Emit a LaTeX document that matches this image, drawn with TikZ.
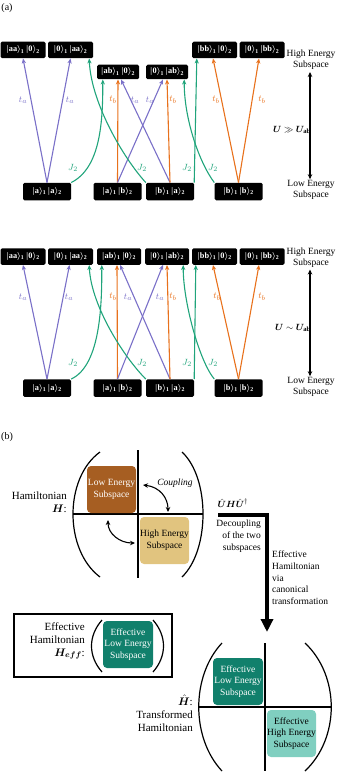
\documentclass[tikz,border=0pt]{standalone}
\usepackage{amsmath,amssymb,bm}
\usepackage{fontspec}
\setmainfont{Liberation Serif}
\usetikzlibrary{arrows.meta,positioning}
\definecolor{purp}{HTML}{7A70C8}
\definecolor{oran}{HTML}{E8711C}
\definecolor{gree}{HTML}{20A47B}
\definecolor{lowbrown}{HTML}{A65E22}
\definecolor{hightan}{HTML}{E1C47F}
\definecolor{effteal}{HTML}{11806C}
\definecolor{effmint}{HTML}{80CFC0}
\newcommand\kt[2]{$\bm{|}$#1$\bm{\rangle}_{\mathbf{#2}}$}

\begin{document}
\begin{tikzpicture}[
  x=1pt,y=-1pt,
  st/.style={fill=black,rounded corners=1.5pt,text=white,inner sep=0pt,minimum width=45pt,minimum height=16.5pt,font=\bfseries\fontsize{8.3}{9}\selectfont},
  lowst/.style={st,minimum width=48pt,minimum height=17.5pt},
  arr/.style={-{Stealth[length=5pt,width=4.2pt,inset=1.5pt]},line width=1.1pt,draw=#1},
  tl/.style={text=#1,inner sep=0pt,font=\fontsize{9.5}{9.5}\selectfont},
  side/.style={align=center,inner sep=0pt,font=\fontsize{9.5}{11}\selectfont},
  vdbl/.style={{Stealth[length=5pt,width=4.5pt]}-{Stealth[length=5pt,width=4.5pt]},line width=1.2pt},
  subsp/.style={rounded corners=4pt,minimum width=49pt,minimum height=47pt,align=center,inner sep=0pt,font=\fontsize{9.5}{11.7}\selectfont},
  big/.style={inner sep=0pt,font=\fontsize{11}{13}\selectfont},
  paren/.style={line width=1.2pt}
]
\useasboundingbox (0,0) rectangle (337,781);

% (a) strong interaction
\node[big,font=\fontsize{10}{12}\selectfont] (pa) at (7,8) {(a)};
\node[st] (aaL) at (23,50) {\kt{aa}{1}\,\kt{0}{2}};
\node[st] (aaR) at (70.5,50) {\kt{0}{1}\,\kt{aa}{2}};
\node[st,minimum width=42pt,minimum height=14.5pt] (abL) at (118,72) {\kt{ab}{1}\,\kt{0}{2}};
\node[st,minimum width=42pt,minimum height=14.5pt] (abR) at (167,72) {\kt{0}{1}\,\kt{ab}{2}};
\node[st] (bbL) at (214.5,50) {\kt{bb}{1}\,\kt{0}{2}};
\node[st] (bbR) at (262,50) {\kt{0}{1}\,\kt{bb}{2}};
\node[lowst] (aa) at (47,191.5) {\kt{a}{1}\,\kt{a}{2}};
\node[lowst] (ab) at (117.5,191.5) {\kt{a}{1}\,\kt{b}{2}};
\node[lowst] (ba) at (170,191.5) {\kt{b}{1}\,\kt{a}{2}};
\node[lowst] (bb) at (238.5,191.5) {\kt{b}{1}\,\kt{b}{2}};

\draw[arr=purp] (aa.north) -- (aaL.south);
\draw[arr=purp] (aa.north) -- (aaR.south);
\draw[arr=oran] (ab.north) -- (abL.south);
\draw[arr=purp] (ab.north) -- ([xshift=-4pt]abR.south);
\draw[arr=purp] (ba.north) -- ([xshift=3pt]abL.south);
\draw[arr=oran] (ba.north) -- (abR.south);
\draw[arr=oran] (bb.north) -- ([xshift=-1.5pt]bbL.south);
\draw[arr=oran] (bb.north) -- ([xshift=-3pt]bbR.south);
\draw[arr=gree] (aa.north east) .. controls +(30,-15) and +(0,40) .. ([xshift=6pt]abL.south west);
\draw[arr=gree] (ba.north west) .. controls +(-22,-24) and +(2,45) .. ([xshift=-4pt]aaR.south east);
\draw[arr=gree] (ba.north east) -- ([xshift=5pt]bbL.south west);
\draw[arr=gree] (bb.north west) .. controls +(-15,-20) and +(0,40) .. ([xshift=-4pt]abR.south east);

\node[tl=purp] (ta1) at (23,100) {$t_a$};
\node[tl=purp] (ta2) at (70,100) {$t_a$};
\node[tl=purp] (ta3) at (135,100) {$t_a$};
\node[tl=purp] (ta4) at (150,100) {$t_a$};
\node[tl=oran] (tb1) at (113,100) {$t_b$};
\node[tl=oran] (tb2) at (173,100) {$t_b$};
\node[tl=oran] (tb3) at (216,100) {$t_b$};
\node[tl=oran] (tb4) at (262,100) {$t_b$};
\node[tl=gree] (jt1) at (73,168) {$J_2$};
\node[tl=gree] (jt2) at (142,168) {$J_2$};
\node[tl=gree] (jt3) at (187,168) {$J_2$};
\node[tl=gree] (jt4) at (213,168) {$J_2$};

\node[side] (hi1) at (311,60) {High Energy\\Subspace};
\node[side] (lo1) at (311,190) {Low Energy\\Subspace};
\draw[vdbl] ([xshift=-1pt,yshift=-2pt]hi1.south) -- ([xshift=-1pt,yshift=1pt]lo1.north);
\node[inner sep=0pt,font=\fontsize{9.5}{11}\selectfont] (r1) at (292,130) {$\bm U\gg\bm U_{\mathbf{ab}}$};

% (a) comparable interaction
\node[st] (qaaL) at (23,256.5) {\kt{aa}{1}\,\kt{0}{2}};
\node[st] (qaaR) at (70.5,256.5) {\kt{0}{1}\,\kt{aa}{2}};
\node[st,minimum width=44pt] (qabL) at (119,256.5) {\kt{ab}{1}\,\kt{0}{2}};
\node[st,minimum width=44pt] (qabR) at (167,256.5) {\kt{0}{1}\,\kt{ab}{2}};
\node[st] (qbbL) at (214.5,256.5) {\kt{bb}{1}\,\kt{0}{2}};
\node[st] (qbbR) at (262,256.5) {\kt{0}{1}\,\kt{bb}{2}};
\node[lowst] (qaa) at (47,388) {\kt{a}{1}\,\kt{a}{2}};
\node[lowst] (qab) at (117.5,388) {\kt{a}{1}\,\kt{b}{2}};
\node[lowst] (qba) at (170,388) {\kt{b}{1}\,\kt{a}{2}};
\node[lowst] (qbb) at (238.5,388) {\kt{b}{1}\,\kt{b}{2}};

\draw[arr=purp] (qaa.north) -- (qaaL.south);
\draw[arr=purp] (qaa.north) -- ([xshift=-1pt]qaaR.south);
\draw[arr=oran] (qab.north) -- ([xshift=-2pt]qabL.south);
\draw[arr=purp] (qab.north) -- ([xshift=-4pt]qabR.south);
\draw[arr=purp] (qba.north) -- ([xshift=1pt]qabL.south);
\draw[arr=oran] (qba.north) -- (qabR.south);
\draw[arr=oran] (qbb.north) -- ([xshift=-1.5pt]qbbL.south);
\draw[arr=oran] (qbb.north) -- ([xshift=-3pt]qbbR.south);
\draw[arr=gree] (qaa.north east) .. controls +(30,-14) and +(0,37) .. ([xshift=5pt]qabL.south west);
\draw[arr=gree] (qba.north west) .. controls +(-22,-22) and +(2,41) .. ([xshift=-4pt]qaaR.south east);
\draw[arr=gree] (qba.north east) -- ([xshift=4pt]qbbL.south west);
\draw[arr=gree] (qbb.north west) .. controls +(-15,-18) and +(0,37) .. ([xshift=-6pt]qabR.south east);

\node[tl=purp] (qta1) at (23,297) {$t_a$};
\node[tl=purp] (qta2) at (69,297) {$t_a$};
\node[tl=purp] (qta3) at (128,297) {$t_a$};
\node[tl=purp] (qta4) at (160,297) {$t_a$};
\node[tl=oran] (qtb1) at (113,297) {$t_b$};
\node[tl=oran] (qtb2) at (173,297) {$t_b$};
\node[tl=oran] (qtb3) at (217,297) {$t_b$};
\node[tl=oran] (qtb4) at (262,297) {$t_b$};
\node[tl=gree] (qjt1) at (73,363) {$J_2$};
\node[tl=gree] (qjt2) at (142,363) {$J_2$};
\node[tl=gree] (qjt3) at (187,363) {$J_2$};
\node[tl=gree] (qjt4) at (213,363) {$J_2$};

\node[side] (hi2) at (311,257.5) {High Energy\\Subspace};
\node[side] (lo2) at (311,387) {Low Energy\\Subspace};
\draw[vdbl] ([xshift=-1pt,yshift=-2pt]hi2.south) -- ([xshift=-1pt,yshift=1pt]lo2.north);
\node[inner sep=0pt,font=\fontsize{9.5}{11}\selectfont] (r2) at (293,328) {$\bm U\sim\bm U_{\mathbf{ab}}$};

% (b) canonical transformation
\node[big,font=\fontsize{10}{12}\selectfont] (pb) at (7,437) {(b)};
\draw[paren] (100,452) .. controls (64,478) and (64,550) .. (100,577);
\draw[paren] (182,452) .. controls (210,478) and (210,550) .. (182,577);
\draw[paren] (138,450) -- (138,578);
\draw[paren] (73,514) -- (203,514);
\node[subsp,fill=lowbrown,text=white] (lowH) at (111.5,489.5) {Low Energy\\Subspace};
\node[subsp,fill=hightan] (highH) at (164.5,540.5) {High Energy\\Subspace};
\node[inner sep=0pt,font=\itshape\fontsize{9.5}{11}\selectfont] (cpl) at (175,483) {Coupling};
\coordinate (c1) at (143,485);
\coordinate (c2) at (168,512);
\coordinate (c3) at (108,520);
\coordinate (c4) at (135,543);
\draw[vdbl,line width=1.1pt] (c1) .. controls (160,487) and (168,498) .. (c2);
\draw[vdbl,line width=1.1pt] (c3) .. controls (108,534) and (120,543) .. (c4);
\node[big,align=right,anchor=north east] (hamH) at (67,492) {Hamiltonian\\$\bm H$:};

\node[inner sep=0pt,font=\fontsize{9.5}{11}\selectfont] (uhu) at (233,503) {$\hat{\bm U}\bm H\hat{\bm U}^{\dagger}$};
\coordinate (ls) at (218,515);
\coordinate (lc) at (267,515);
\coordinate (le) at (267,632);
\draw[line width=4pt,-{Triangle[length=13pt,width=12pt]}] (ls) -- (lc) -- (le);
\node[inner sep=0pt,align=right,anchor=north east,font=\fontsize{9.5}{12}\selectfont] (dec) at (261,520) {Decoupling\\of the two\\subspaces};
\node[inner sep=0pt,align=left,anchor=north west,font=\fontsize{9.5}{11.6}\selectfont] (via) at (272,551) {Effective\\Hamiltonian\\via\\canonical\\transformation};

\node[draw,line width=1.6pt,minimum width=158pt,minimum height=63pt,inner sep=0pt] (frm) at (93,645.5) {};
\node[big,align=right,anchor=east] (heff) at (85,641) {Effective\\Hamiltonian\\$\bm H_{\bm{eff}}$:};
\draw[paren] (102,620) .. controls (88,636) and (88,656) .. (102,672);
\draw[paren] (153,620) .. controls (167,636) and (167,656) .. (153,672);
\node[subsp,fill=effteal,text=white,minimum width=50pt] (effL) at (128,644.5) {Effective\\Low Energy\\Subspace};

\draw[paren] (222,643) .. controls (191,676) and (191,738) .. (222,771);
\draw[paren] (305,643) .. controls (340,676) and (340,738) .. (305,771);
\draw[paren] (265,643) -- (265,771);
\draw[paren] (199,707) -- (331,707);
\node[subsp,fill=effteal,text=white,minimum width=50pt] (effL2) at (238,681.5) {Effective\\Low Energy\\Subspace};
\node[subsp,fill=effmint] (effH2) at (291.5,733.5) {Effective\\High Energy\\Subspace};
\node[big,align=right,anchor=north east] (hhat) at (193,695) {$\hat{\bm H}$:\\Transformed\\Hamiltonian};
\end{tikzpicture}
\end{document}
